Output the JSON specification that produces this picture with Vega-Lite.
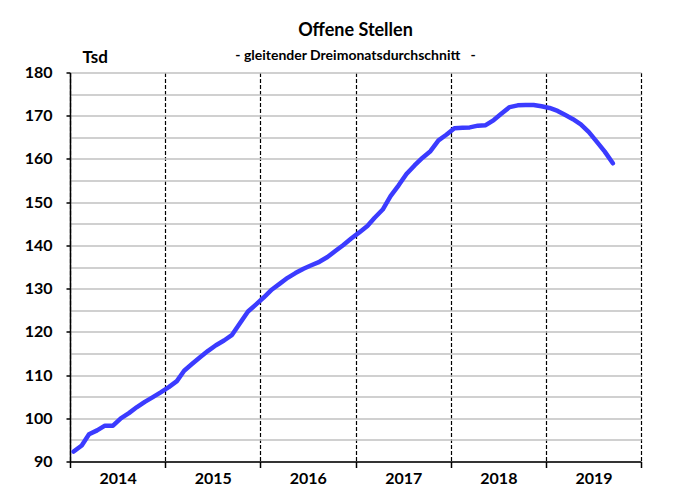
{
  "$schema": "https://vega.github.io/schema/vega-lite/v6.json",
  "width": 571,
  "height": 389,
  "padding": {"left": 0, "top": 21.5, "right": 10, "bottom": 5},
  "background": "white",
  "title": {
    "text": "Offene Stellen",
    "subtitle": "- gleitender Dreimonatsdurchschnitt\u00a0\u00a0\u00a0-",
    "anchor": "middle",
    "frame": "group",
    "font": "Lato",
    "fontSize": 18,
    "fontWeight": "bold",
    "color": "black",
    "subtitleFont": "Lato",
    "subtitleFontSize": 14,
    "subtitleFontWeight": "bold",
    "subtitleColor": "black",
    "subtitlePadding": 9,
    "offset": -14
  },
  "data": {
    "values": [
      {"date": "2014-01-15", "value": 92.3},
      {"date": "2014-02-15", "value": 93.7},
      {"date": "2014-03-15", "value": 96.3},
      {"date": "2014-04-15", "value": 97.2},
      {"date": "2014-05-15", "value": 98.3},
      {"date": "2014-06-15", "value": 98.3},
      {"date": "2014-07-15", "value": 100.0},
      {"date": "2014-08-15", "value": 101.2},
      {"date": "2014-09-15", "value": 102.6},
      {"date": "2014-10-15", "value": 103.8},
      {"date": "2014-11-15", "value": 104.9},
      {"date": "2014-12-15", "value": 106.0},
      {"date": "2015-01-15", "value": 107.2},
      {"date": "2015-02-15", "value": 108.6},
      {"date": "2015-03-15", "value": 111.0},
      {"date": "2015-04-15", "value": 112.6},
      {"date": "2015-05-15", "value": 114.1},
      {"date": "2015-06-15", "value": 115.6},
      {"date": "2015-07-15", "value": 116.9},
      {"date": "2015-08-15", "value": 118.0},
      {"date": "2015-09-15", "value": 119.3},
      {"date": "2015-10-15", "value": 122.0},
      {"date": "2015-11-15", "value": 124.7},
      {"date": "2015-12-15", "value": 126.3},
      {"date": "2016-01-15", "value": 128.0},
      {"date": "2016-02-15", "value": 129.8},
      {"date": "2016-03-15", "value": 131.1},
      {"date": "2016-04-15", "value": 132.5},
      {"date": "2016-05-15", "value": 133.6},
      {"date": "2016-06-15", "value": 134.6},
      {"date": "2016-07-15", "value": 135.4},
      {"date": "2016-08-15", "value": 136.2},
      {"date": "2016-09-15", "value": 137.3},
      {"date": "2016-10-15", "value": 138.7},
      {"date": "2016-11-15", "value": 140.1},
      {"date": "2016-12-15", "value": 141.6},
      {"date": "2017-01-15", "value": 143.0},
      {"date": "2017-02-15", "value": 144.5},
      {"date": "2017-03-15", "value": 146.4},
      {"date": "2017-04-15", "value": 148.3},
      {"date": "2017-05-15", "value": 151.4},
      {"date": "2017-06-15", "value": 153.9},
      {"date": "2017-07-15", "value": 156.5},
      {"date": "2017-08-15", "value": 158.5},
      {"date": "2017-09-15", "value": 160.3},
      {"date": "2017-10-15", "value": 161.8},
      {"date": "2017-11-15", "value": 164.3},
      {"date": "2017-12-15", "value": 165.6},
      {"date": "2018-01-15", "value": 167.1},
      {"date": "2018-02-15", "value": 167.2},
      {"date": "2018-03-15", "value": 167.3},
      {"date": "2018-04-15", "value": 167.7},
      {"date": "2018-05-15", "value": 167.8},
      {"date": "2018-06-15", "value": 169.0},
      {"date": "2018-07-15", "value": 170.5},
      {"date": "2018-08-15", "value": 172.0},
      {"date": "2018-09-15", "value": 172.4},
      {"date": "2018-10-15", "value": 172.5},
      {"date": "2018-11-15", "value": 172.5},
      {"date": "2018-12-15", "value": 172.2},
      {"date": "2019-01-15", "value": 171.8},
      {"date": "2019-02-15", "value": 171.1},
      {"date": "2019-03-15", "value": 170.2},
      {"date": "2019-04-15", "value": 169.2},
      {"date": "2019-05-15", "value": 168.0},
      {"date": "2019-06-15", "value": 166.2},
      {"date": "2019-07-15", "value": 164.0},
      {"date": "2019-08-15", "value": 161.7},
      {"date": "2019-09-15", "value": 159.0}
    ]
  },
  "mark": {"type": "line", "color": "#3b3bff", "strokeWidth": 4.5, "strokeCap": "round", "strokeJoin": "round"},
  "encoding": {
    "x": {
      "field": "date",
      "type": "temporal",
      "scale": {
        "type": "utc",
        "domain": [
          {"year": 2014, "month": 1, "date": 1, "utc": true},
          {"year": 2020, "month": 1, "date": 1, "utc": true}
        ]
      },
      "axis": {
        "title": null,
        "values": [
          {"year": 2014, "month": 1, "date": 1, "utc": true},
          {"year": 2015, "month": 1, "date": 1, "utc": true},
          {"year": 2016, "month": 1, "date": 1, "utc": true},
          {"year": 2017, "month": 1, "date": 1, "utc": true},
          {"year": 2018, "month": 1, "date": 1, "utc": true},
          {"year": 2019, "month": 1, "date": 1, "utc": true},
          {"year": 2020, "month": 1, "date": 1, "utc": true}
        ],
        "labelExpr": "utcyear(datum.value) < 2020 ? utcFormat(datum.value, '%Y') : ''",
        "labelOffset": 47.6,
        "labelFont": "Lato",
        "labelFontSize": 16,
        "labelFontWeight": "bold",
        "labelColor": "black",
        "labelPadding": 3,
        "labelFlush": false,
        "labelOverlap": false,
        "labelBound": false,
        "tickSize": 6,
        "tickColor": "black",
        "tickWidth": 1.5,
        "domainColor": "black",
        "domainWidth": 1.5,
        "grid": true,
        "gridColor": "black",
        "gridDash": [4, 2],
        "gridWidth": 1.2
      }
    },
    "y": {
      "field": "value",
      "type": "quantitative",
      "scale": {"domain": [90, 180], "nice": false, "zero": false},
      "axis": {
        "title": "Tsd",
        "titleAngle": 0,
        "titleAlign": "left",
        "titleBaseline": "alphabetic",
        "titleX": 12,
        "titleY": -10,
        "titleFont": "Lato",
        "titleFontSize": 17,
        "titleFontWeight": "bold",
        "titleColor": "black",
        "values": [90, 95, 100, 105, 110, 115, 120, 125, 130, 135, 140, 145, 150, 155, 160, 165, 170, 175, 180],
        "labelExpr": "datum.value % 10 === 0 ? datum.label : ''",
        "labelOverlap": false,
        "labelFont": "Lato",
        "labelFontSize": 16,
        "labelFontWeight": "bold",
        "labelColor": "black",
        "labelPadding": 14,
        "tickSize": 4,
        "tickWidth": 1.5,
        "tickColor": {"condition": {"test": "datum.value % 10 === 0", "value": "black"}, "value": "transparent"},
        "domainColor": "black",
        "domainWidth": 1.5,
        "grid": true,
        "gridColor": "#c0c0c0",
        "gridWidth": 1.5,
        "minExtent": 70,
        "maxExtent": 70
      }
    }
  },
  "config": {"view": {"stroke": null}}
}
